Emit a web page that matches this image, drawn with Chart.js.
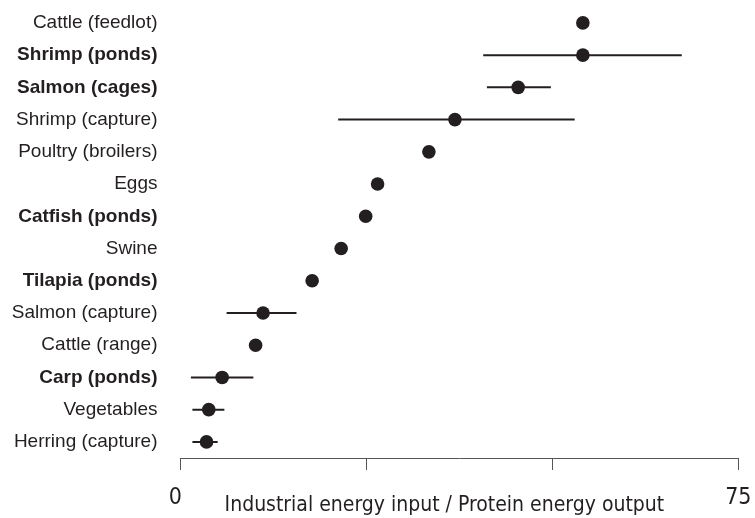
<!DOCTYPE html>
<html>
<head>
<meta charset="utf-8">
<script src="https://cdn.jsdelivr.net/npm/chart.js@4/dist/chart.umd.min.js"></script>
<style>
  html, body { margin: 0; padding: 0; background: #ffffff; }
  #wrap { width: 755px; height: 518px; position: relative; }
</style>
</head>
<body>
<div id="wrap"><canvas id="c" width="755" height="518"></canvas></div>
<script>
// ---- data ----
const categories = [
  "Cattle (feedlot)", "Shrimp (ponds)", "Salmon (cages)", "Shrimp (capture)",
  "Poultry (broilers)", "Eggs", "Catfish (ponds)", "Swine", "Tilapia (ponds)",
  "Salmon (capture)", "Cattle (range)", "Carp (ponds)", "Vegetables", "Herring (capture)"
];
const boldCategories = ["Shrimp (ponds)", "Salmon (cages)", "Catfish (ponds)", "Tilapia (ponds)", "Carp (ponds)"];
const ratioValues = [54.1, 54.1, 45.4, 36.9, 33.4, 26.5, 24.9, 21.6, 17.7, 11.1, 10.1, 5.6, 3.8, 3.5];
const rangeLow  = [null, 40.7, 41.2, 21.2, null, null, null, null, null, 6.2, null, 1.4, 1.6, 1.6];
const rangeHigh = [null, 67.4, 49.8, 53.0, null, null, null, null, null, 15.6, null, 9.8, 5.9, 5.0];
const xTickValues = [0, 25, 50, 75];
const xTickLabels = ["0\u2002", "", "", "75"];
const axisTitle = "Industrial energy input / Protein energy output";

// ---- build datasets ----
const ink = "#231f20";
const datasets = [];
categories.forEach((cat, i) => {
  if (rangeLow[i] !== null && rangeHigh[i] !== null) {
    datasets.push({
      type: "line",
      data: [{ x: rangeLow[i], y: cat }, { x: rangeHigh[i], y: cat }],
      borderColor: ink,
      borderWidth: 2,
      pointRadius: 0,
      pointHoverRadius: 0,
      fill: false
    });
  }
});
datasets.push({
  type: "scatter",
  data: categories.map((cat, i) => ({ x: ratioValues[i], y: cat })),
  backgroundColor: ink,
  borderColor: ink,
  borderWidth: 0,
  pointRadius: 6.8,
  pointHoverRadius: 6.8
});

const condFamily = '"DejaVu Sans Condensed", "DejaVu Sans", sans-serif';
const titleFont = '21px ' + condFamily;

const axisTitlePlugin = {
  id: "axisTitlePlugin",
  afterDraw(chart) {
    const { ctx, chartArea } = chart;
    ctx.save();
    ctx.font = titleFont;
    ctx.fillStyle = ink;
    ctx.textAlign = "center";
    ctx.textBaseline = "alphabetic";
    const cx = (chartArea.left + chartArea.right) / 2 - 15;
    ctx.fillText(axisTitle, cx, chart.height - 7);
    ctx.restore();
  }
};

new Chart(document.getElementById("c"), {
  type: "scatter",
  data: { datasets },
  options: {
    responsive: false,
    animation: false,
    layout: { padding: { top: 6, right: 16.7, left: 0, bottom: 0 } },
    plugins: { legend: { display: false }, tooltip: { enabled: false } },
    scales: {
      x: {
        type: "linear",
        min: 0,
        max: 75,
        afterBuildTicks(scale) { scale.ticks = xTickValues.map(v => ({ value: v })); },
        afterFit(scale) {
          scale.height = 60;
          scale.paddingLeft = 0;
          scale.paddingRight = 0;
        },
        grid: { drawOnChartArea: false, drawTicks: true, tickLength: 12, tickColor: "#555555", tickWidth: 1 },
        border: { display: true, color: "#555555", width: 1 },
        ticks: {
          autoSkip: false,
          maxRotation: 0,
          padding: 14,
          color: ink,
          font: { family: condFamily, size: 23 },
          callback(value) { const k = xTickValues.indexOf(value); return k >= 0 ? xTickLabels[k] : ""; }
        }
      },
      y: {
        type: "category",
        labels: categories,
        offset: true,
        afterFit(scale) {
          scale.width = 180.5;
          scale.paddingTop = 0;
          scale.paddingBottom = 0;
        },
        grid: { display: false, drawTicks: true, tickLength: 23 },
        border: { display: false },
        ticks: {
          autoSkip: false,
          padding: 0,
          color: ink,
          font(ctx) {
            const lbl = categories[ctx.index];
            return {
              family: '"Liberation Sans", Arial, sans-serif',
              size: 19,
              weight: boldCategories.includes(lbl) ? "bold" : "normal"
            };
          }
        }
      }
    }
  },
  plugins: [axisTitlePlugin]
});
</script>
</body>
</html>
